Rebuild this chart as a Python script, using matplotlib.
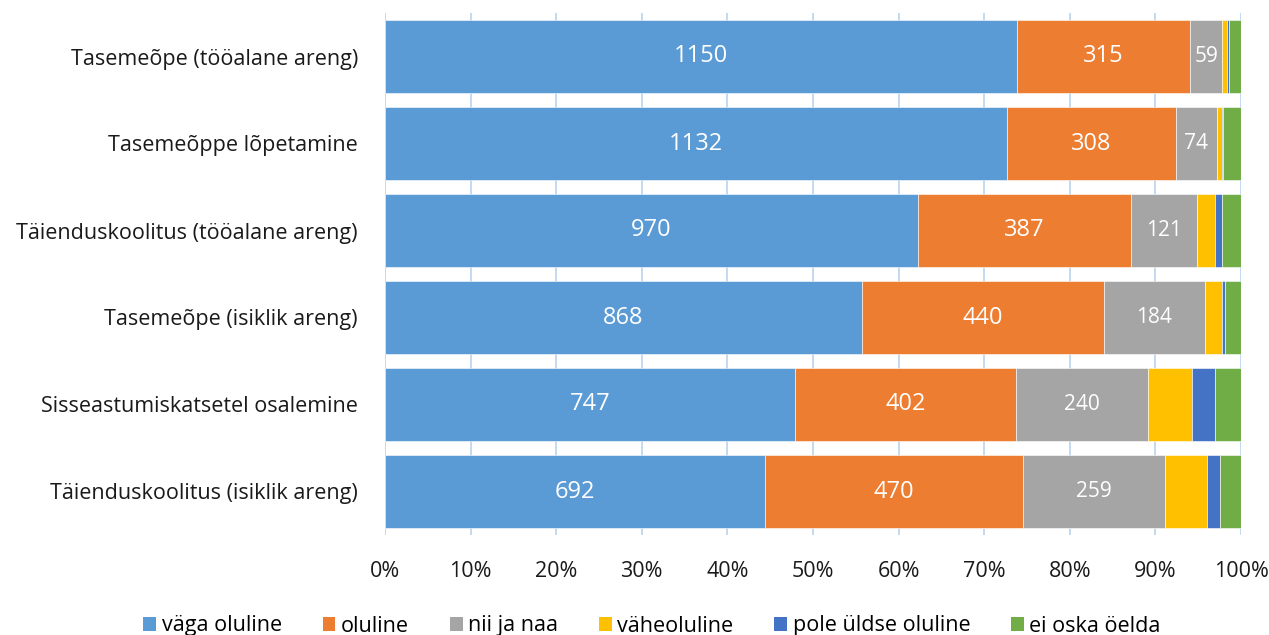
import numpy as np
import matplotlib.pyplot as plt
from matplotlib.patches import Patch
from matplotlib.ticker import PercentFormatter

plt.rcParams['font.family'] = ['Open Sans', 'DejaVu Sans']

categories = ['Tasemeõpe (tööalane areng)',
              'Tasemeõppe lõpetamine',
              'Täienduskoolitus (tööalane areng)',
              'Tasemeõpe (isiklik areng)',
              'Sisseastumiskatsetel osalemine',
              'Täienduskoolitus (isiklik areng)']

series = ['väga oluline', 'oluline', 'nii ja naa', 'väheoluline',
          'pole üldse oluline', 'ei oska öelda']

vaga_oluline = [1150, 1132, 970, 868, 747, 692]
oluline = [315, 308, 387, 440, 402, 470]
nii_ja_naa = [59, 74, 121, 184, 240, 259]
vaheoluline = [8, 10, 33, 31, 81, 76]
pole_oluline = [5, 2, 13, 6, 41, 24]
ei_oska = [21, 32, 34, 29, 48, 38]

colors = ['#5B9BD5', '#ED7D31', '#A5A5A5', '#FFC000', '#4472C4', '#70AD47']
label_size = [17, 17, 15, None, None, None]

counts = np.array([vaga_oluline, oluline, nii_ja_naa, vaheoluline,
                   pole_oluline, ei_oska], dtype=float)
shares = counts / counts.sum(axis=0) * 100

fig = plt.figure(figsize=(12.69, 6.35), dpi=100)
ax = fig.add_axes([385 / 1269, 1 - 535 / 635, (1241 - 385) / 1269, 522 / 635])

y = np.arange(len(categories))
left = np.zeros(len(categories))
for k in range(len(series)):
    bars = ax.barh(y, shares[k], left=left, height=0.84, color=colors[k],
                   edgecolor='white', linewidth=0.4, zorder=3)
    if label_size[k]:
        for b, c in zip(bars, counts[k]):
            ax.text(b.get_x() + b.get_width() / 2, b.get_y() + b.get_height() / 2,
                    f'{int(c)}', ha='center', va='center', color='white',
                    fontsize=label_size[k], zorder=4)
    left += shares[k]

ax.set_xlim(0, 100)
ax.set_ylim(len(categories) - 0.5, -0.5)
ax.set_yticks(y)
ax.set_yticklabels(categories, fontsize=15.5, color='#1a1a1a')
ax.set_xticks(np.arange(0, 101, 10))
ax.xaxis.set_major_formatter(PercentFormatter(decimals=0))
ax.tick_params(axis='x', labelsize=15.5, labelcolor='#1a1a1a', length=0, pad=19)
ax.tick_params(axis='y', length=0, pad=19.5)
ax.grid(axis='x', color='#BDD7EE', linewidth=1.3, zorder=0)
for s in ax.spines.values():
    s.set_visible(False)

handles = [Patch(facecolor=c, label=s) for c, s in zip(colors, series)]
fig.legend(handles=handles, loc='center', bbox_to_anchor=(652 / 1269, 1 - 626 / 635),
           ncol=6, frameon=False, fontsize=15.5, handlelength=0.6, handleheight=0.6,
           handletextpad=0.25, columnspacing=1.9, borderpad=0)

fig.savefig('out.png', dpi=100)
